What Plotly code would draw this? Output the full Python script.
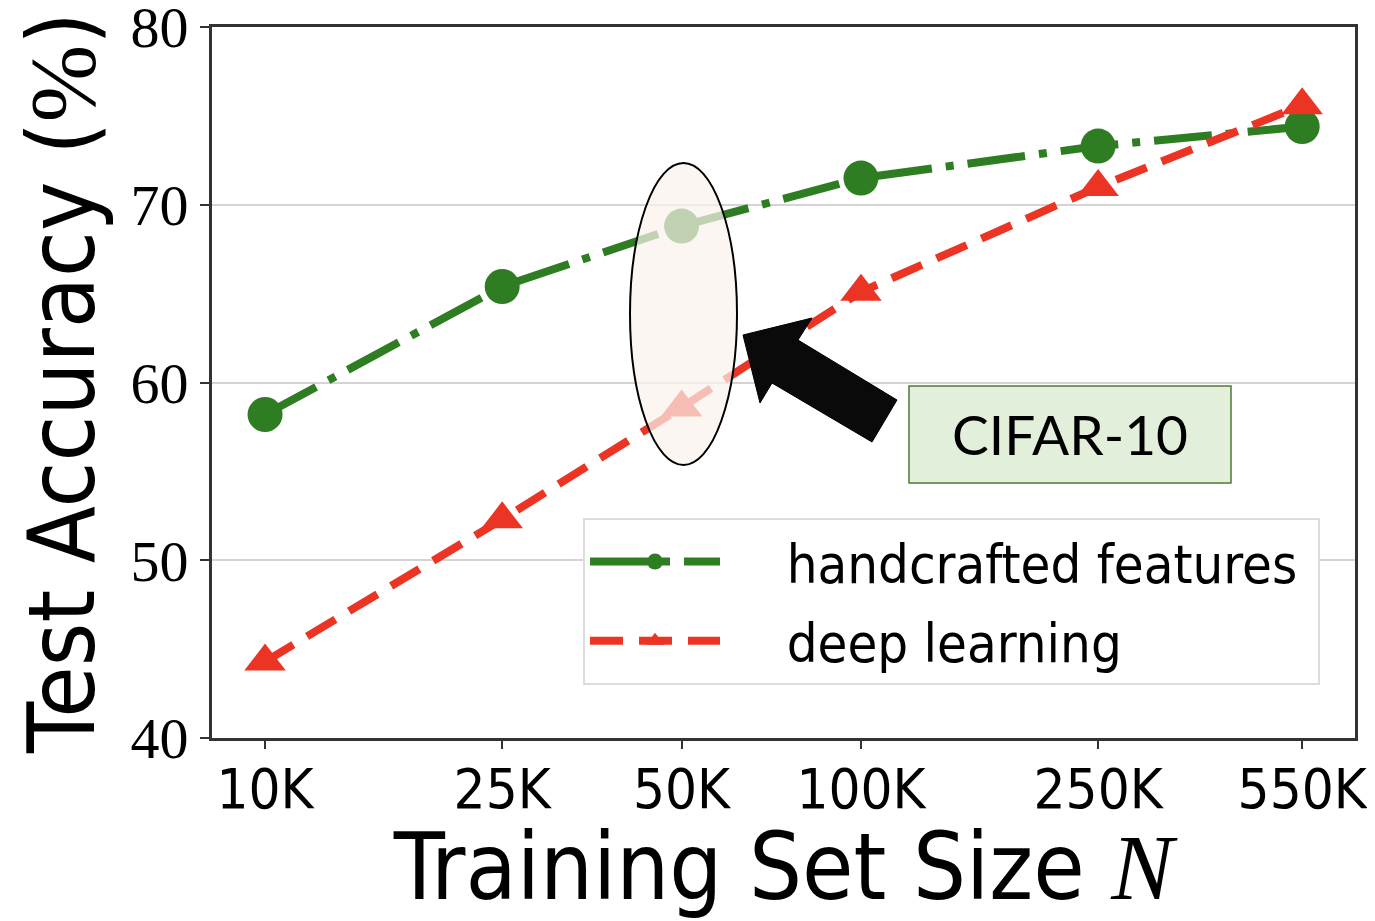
import plotly.graph_objects as go

# ---- data ----
train_sizes = [10000, 25000, 50000, 100000, 250000, 550000]
tick_labels = ["10K", "25K", "50K", "100K", "250K", "550K"]
y_ticks = [40, 50, 60, 70, 80]
handcrafted = [58.2, 65.4, 68.8, 71.5, 73.3, 74.4]
deep_learning = [44.3, 52.3, 58.6, 65.1, 71.0, 75.6]
series_names = ["handcrafted features", "deep learning"]

GREEN = "#2f7d22"
RED = "#ec3424"
SANS = "DejaVu Sans Condensed, DejaVu Sans, Open Sans"

OFF = 8  # page body margin
W, H = 1375 - OFF, 921 - OFF
L, R, T, B = 212 - OFF, 20, 27 - OFF, 183
PW, PH = W - L - R, H - T - B


def px(x):
    return (x - OFF - L) / PW


def py(y):
    return (H - B - (y - OFF)) / PH


PAD = "\u00a0" * 4

fig = go.Figure()
fig.add_trace(go.Scatter(
    x=train_sizes, y=handcrafted, name=PAD + series_names[0] + "\u00a0",
    legendgroup="a",
    mode="lines+markers",
    line=dict(color=GREEN, width=8, dash="58px,14px,8px,14px"),
    marker=dict(symbol="circle", size=35, color=GREEN),
))
fig.add_trace(go.Scatter(
    x=train_sizes, y=deep_learning, name=PAD + series_names[1],
    legendgroup="b",
    mode="lines+markers",
    line=dict(color=RED, width=8, dash="33px,16px"),
    marker=dict(symbol="triangle-up", size=36, color=RED),
))

fig.update_layout(
    width=W, height=H,
    margin=dict(l=L, r=R, t=T, b=B, autoexpand=False),
    paper_bgcolor="white", plot_bgcolor="white",
    showlegend=True,
    legend=dict(
        x=px(583), y=py(518), xanchor="left", yanchor="top",
        bgcolor="white", bordercolor="#dcdcdc", borderwidth=2,
        font=dict(family=SANS, size=54, color="black"),
        itemwidth=130, tracegroupgap=6,
    ),
)

fig.update_xaxes(
    type="log", automargin=False,
    range=[3.911, 5.829],
    tickvals=train_sizes, ticktext=tick_labels,
    ticks="outside", ticklen=8, tickwidth=2, tickcolor="#333",
    ticklabelstandoff=-8,
    showline=True, linecolor="#333", linewidth=3, mirror=True,
    showgrid=False, zeroline=False,
    tickfont=dict(family=SANS, size=56, color="black"),
    title=dict(text="Training Set Size <i><span style='font-family:Liberation Serif'>N</span></i>",
               font=dict(family=SANS, size=93, color="black"),
               standoff=14),
)
fig.update_yaxes(
    automargin=False,
    range=[40, 80],
    tickvals=y_ticks,
    ticks="outside", ticklen=9, tickwidth=2, tickcolor="#333",
    ticklabeloverflow="allow",
    showline=True, linecolor="#333", linewidth=3, mirror=True,
    showgrid=True, gridcolor="#d4d4d4", gridwidth=2, zeroline=False,
    tickfont=dict(family="Liberation Serif, DejaVu Serif", size=58, color="black"),
    title=dict(text="Test Accuracy (<span style='font-family:Liberation Serif'>%</span>)",
               font=dict(family=SANS, size=93, color="black"),
               standoff=10),
)

# ellipse highlighting 50K
fig.add_shape(type="circle", xref="paper", yref="paper",
              x0=px(630), x1=px(737), y0=py(465), y1=py(163),
              fillcolor="rgba(250,243,235,0.72)", line=dict(color="black", width=2),
              layer="above")

# arrow
arrow_pts = [(743, 335), (812, 318), (798, 340), (897, 400), (872, 442), (772, 383), (760, 403)]
path = "M " + " L ".join(f"{px(x):.5f},{py(y):.5f}" for x, y in arrow_pts) + " Z"
fig.add_shape(type="path", xref="paper", yref="paper", path=path,
              fillcolor="#0a0a0a", line=dict(color="black", width=1), layer="above")

# CIFAR-10 box
fig.add_shape(type="rect", xref="paper", yref="paper",
              x0=px(909), x1=px(1231), y0=py(483), y1=py(386),
              fillcolor="#e2efda", line=dict(color="#4e7a32", width=1.5), layer="above")
fig.add_annotation(xref="paper", yref="paper", x=px(1070), y=py(434),
                   text="CIFAR-10", showarrow=False,
                   font=dict(family="Lato, Open Sans", size=55, color="black"),
                   xanchor="center", yanchor="middle")

fig.write_html("out.html")
